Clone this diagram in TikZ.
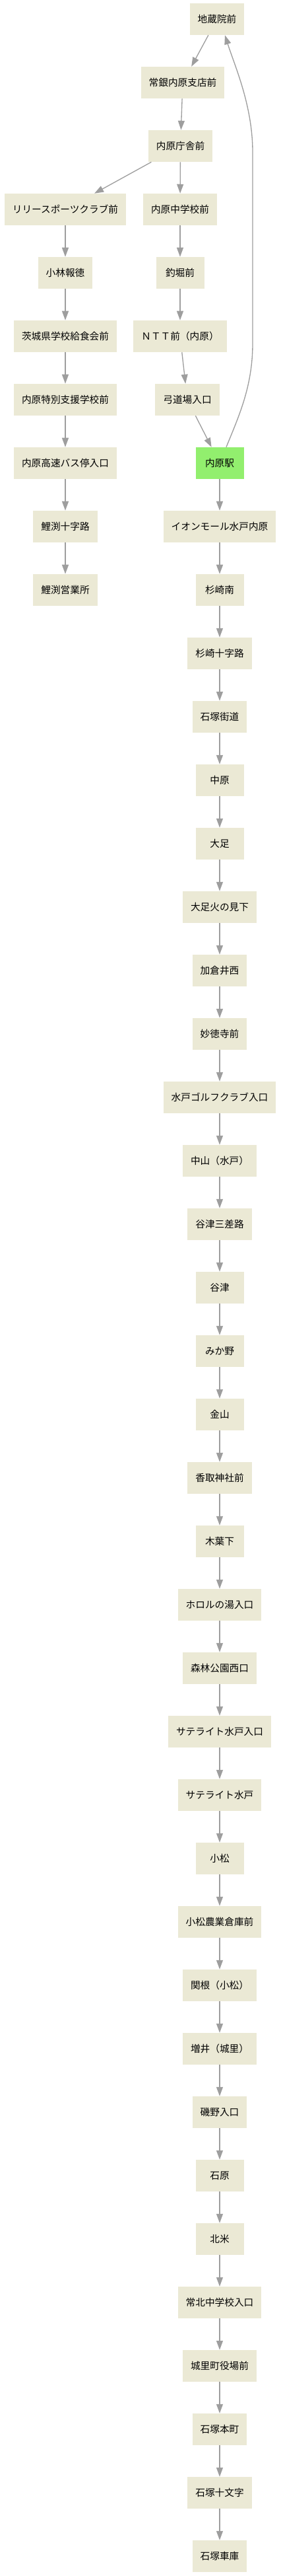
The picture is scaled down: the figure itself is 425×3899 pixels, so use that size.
\documentclass[tikz,border=0pt]{standalone}
\usepackage{fontspec}
\newfontfamily\cjk{Noto Sans CJK JP}
\usetikzlibrary{arrows.meta,calc}
\definecolor{stopfill}{HTML}{EBE9D5}
\definecolor{ekifill}{HTML}{92EF6E}
\definecolor{edgegray}{HTML}{9E9E9E}
\tikzset{
  stop/.style={rectangle, fill=stopfill, draw=none, font=\cjk\fontsize{11}{13}\selectfont,
    minimum width=54.75pt, minimum height=36pt, inner xsep=9pt, inner ysep=0pt, text=black},
  ekistop/.style={stop, fill=ekifill},
  link/.style={draw=edgegray, line width=1pt, -{Triangle[length=10.5pt,width=7.5pt]}}
}
\begin{document}
\begin{tikzpicture}[x=0.75pt, y=-0.75pt]
\useasboundingbox (0,0) rectangle (425,3899);
% top part
\node[stop] (n1) at (329,29) {地蔵院前};
\node[stop] (n2) at (277,125) {常銀内原支店前};
\node[stop] (n3) at (273.5,221) {内原庁舎前};
% left branch
\node[stop] (a1) at (99,317) {リリースポーツクラブ前};
\node[stop] (a2) at (99,413) {小林報徳};
\node[stop] (a3) at (99,509) {茨城県学校給食会前};
\node[stop] (a4) at (99,605) {内原特別支援学校前};
\node[stop] (a5) at (99,701) {内原高速バス停入口};
\node[stop] (a6) at (99,797) {鯉渕十字路};
\node[stop] (a7) at (99,893) {鯉渕営業所};
% middle branch
\node[stop] (b1) at (273,317) {内原中学校前};
\node[stop] (b2) at (273,413) {釣堀前};
\node[stop] (b3) at (273,509) {ＮＴＴ前（内原）};
\node[stop] (b4) at (284,605) {弓道場入口};
\node[ekistop] (eki) at (333,701) {内原駅};
% main line
\foreach \t [count=\i] in {イオンモール水戸内原,杉崎南,杉崎十字路,石塚街道,中原,大足,大足火の見下,加倉井西,妙徳寺前,水戸ゴルフクラブ入口,中山（水戸）,谷津三差路,谷津,みか野,金山,香取神社前,木葉下,ホロルの湯入口,森林公園西口,サテライト水戸入口,サテライト水戸,小松,小松農業倉庫前,関根（小松）,増井（城里）,磯野入口,石原,北米,常北中学校入口,城里町役場前,石塚本町,石塚十文字,石塚車庫}{
  \node[stop] (c\i) at (333,{701+96*\i}) {\t};
}
% edges
\draw[link] (n1) -- (n2);
\draw[link] (n2) -- (n3);
\draw[link] (n3) -- (a1);
\draw[link] (n3) -- (b1);
\draw[link] (a1) -- (a2);
\draw[link] (a2) -- (a3);
\draw[link] (a3) -- (a4);
\draw[link] (a4) -- (a5);
\draw[link] (a5) -- (a6);
\draw[link] (a6) -- (a7);
\draw[link] (b1) -- (b2);
\draw[link] (b2) -- (b3);
\draw[link] (b3) -- (b4);
\draw[link] (b4) -- (eki);
\draw[link] ($(eki.north)+(10,0)$) .. controls (362,630) and (383,585) .. (383,520)
   -- (383,230) .. controls (383,160) and (356,100) .. ($(n1.south)+(12,0)$);
\draw[link] (eki) -- (c1);
\foreach \i [evaluate=\i as \j using int(\i+1)] in {1,...,32}{
  \draw[link] (c\i) -- (c\j);
}
\end{tikzpicture}
\end{document}
